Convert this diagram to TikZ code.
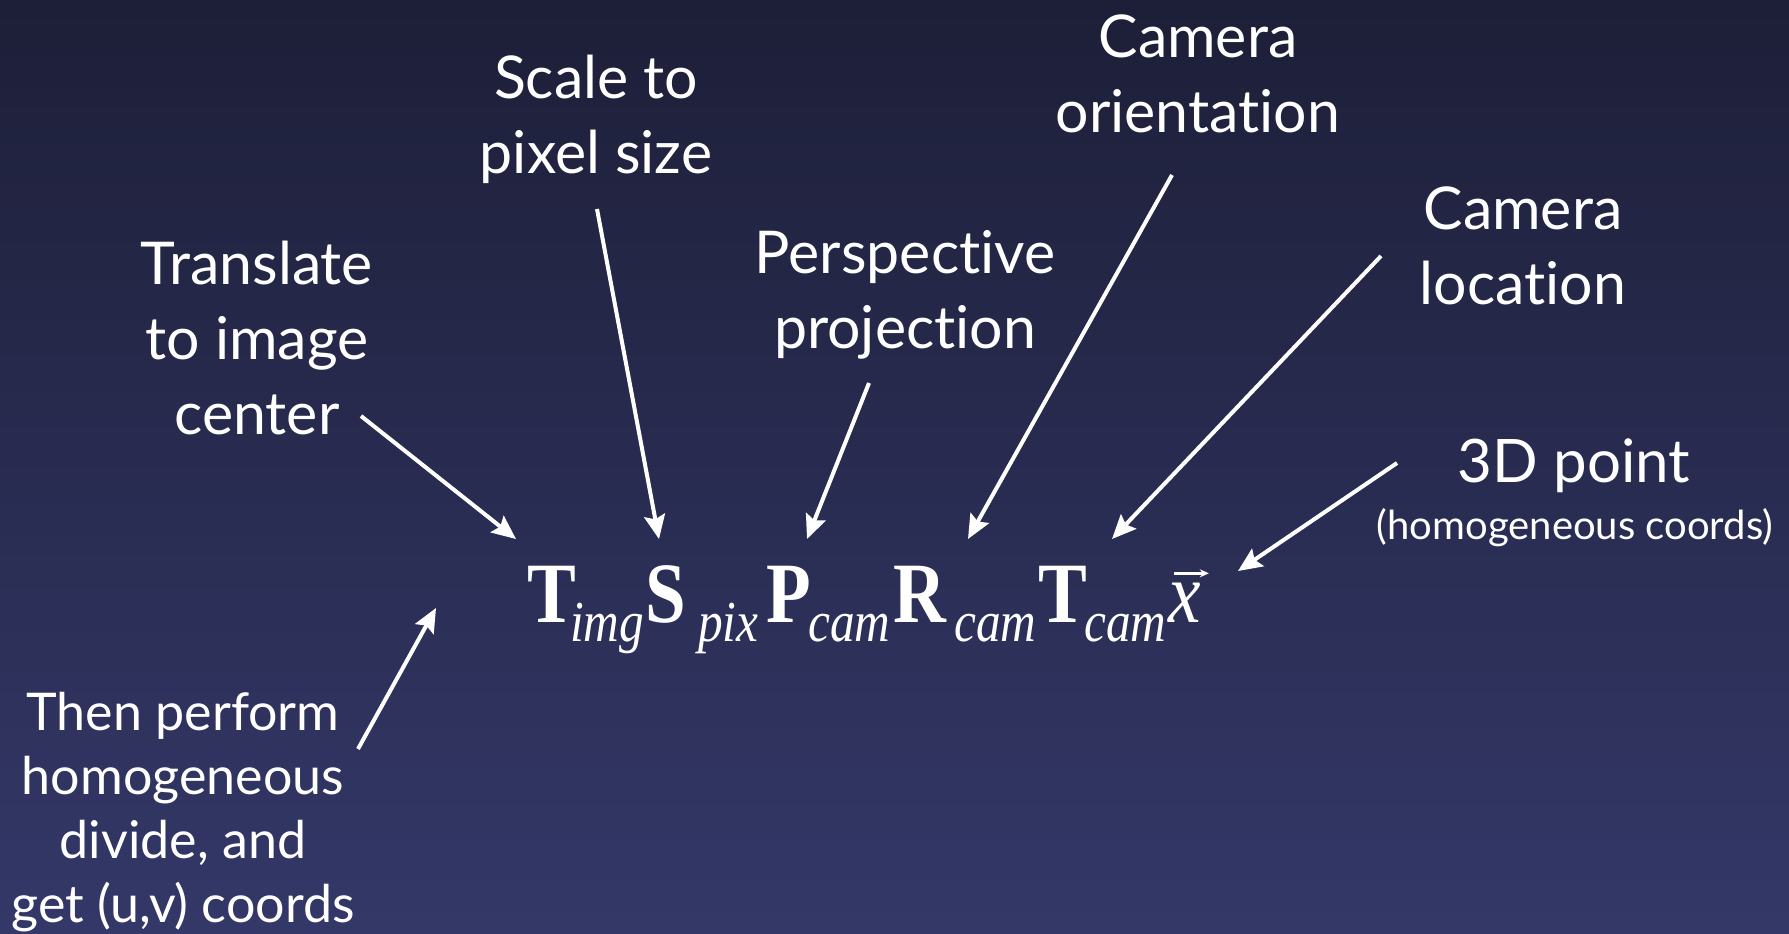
\documentclass[tikz,border=0pt]{standalone}
\usepackage{fontspec}
\setmainfont{Lato}[Ligatures={NoCommon,NoDiscretionary,NoRare,NoContextual}]
\newfontfamily\tnr[FakeStretch=0.85]{Liberation Serif}
\usetikzlibrary{arrows.meta,calc}
\definecolor{bgtop}{RGB}{29,31,56}
\definecolor{bgbot}{RGB}{52,56,104}
\begin{document}
\begin{tikzpicture}[x=1pt,y=-1pt,
  lbl/.style={text=white,align=center,inner sep=0pt,font=\fontsize{59}{75}\selectfont},
  small/.style={text=white,align=center,inner sep=0pt,font=\fontsize{52}{64}\selectfont},
  tiny/.style={text=white,align=center,inner sep=0pt,font=\fontsize{40}{44}\selectfont},
  arr/.style={draw=white,line width=4pt,-{Stealth[length=24pt,width=21pt,inset=4pt]}},
  big/.style={text=white,inner sep=0pt,anchor=base west,font=\tnr\bfseries\fontsize{86}{86}\selectfont},
  sub/.style={text=white,inner sep=0pt,anchor=base west,font=\tnr\itshape\fontsize{58}{58}\selectfont},
  vx/.style={text=white,inner sep=0pt,anchor=base west,font=\tnr\itshape\fontsize{86}{86}\selectfont}]
\shade[top color=bgtop,bottom color=bgbot] (0,0) rectangle (1789,934);
\useasboundingbox (0,0) rectangle (1789,934);

% labels
\node[lbl] (translate) at (257,338) {Translate\\to image\\center};
\node[lbl] (scale) at (596,119) {Scale to\\pixel size};
\node[lbl] (persp) at (905,295) {Perspective\\projection};
\node[lbl] (orient) at (1198,74) {Camera\\orientation};
\node[lbl] (loc) at (1523,246) {Camera\\location};
\node[small,font=\fontsize{60}{60}\selectfont] (pt3d) at (1574,466) {3D point};
\node[tiny] (homog) at (1575,528) {(homogeneous coords)};
\node[small] (then) at (183,812) {Then perform\\homogeneous\\divide, and\\get (u,v) coords};

% formula
\node[big] (T1) at (527,622) {T};
\node[sub] (s1) at (570,641) {img};
\node[big] (S) at (645,622) {S};
\node[sub] (s2) at (698,641) {pix};
\node[big] (P) at (766,622) {P};
\node[sub] (s3) at (808,641) {cam};
\node[big] (R) at (893,622) {R};
\node[sub] (s4) at (954,641) {cam};
\node[big] (T2) at (1038,622) {T};
\node[sub] (s5) at (1084,641) {cam};
\node[vx] (xv) at (1168,622) {x};
\draw[white,line width=2.5pt,-{Stealth[length=9pt,width=8pt]}] ($(xv.north west)+(6,-9)$) -- ($(xv.north east)+(8,-9)$);

% connector ends
\coordinate (a1s) at (361,416); \coordinate (a1e) at (516,539);
\coordinate (a2s) at (597,209); \coordinate (a2e) at (659,539);
\coordinate (a3s) at (869,383); \coordinate (a3e) at (807,539);
\coordinate (a4s) at (1172,175); \coordinate (a4e) at (968,539);
\coordinate (a5s) at (1381,256); \coordinate (a5e) at (1112,539);
\coordinate (a6s) at (1397,463); \coordinate (a6e) at (1238,571);
\coordinate (a7s) at (358,749); \coordinate (a7e) at (436,608);

\draw[arr] (a1s) -- (a1e);
\draw[arr] (a2s) -- (a2e);
\draw[arr] (a3s) -- (a3e);
\draw[arr] (a4s) -- (a4e);
\draw[arr] (a5s) -- (a5e);
\draw[arr] (a6s) -- (a6e);
\draw[arr] (a7s) -- (a7e);
\end{tikzpicture}
\end{document}
